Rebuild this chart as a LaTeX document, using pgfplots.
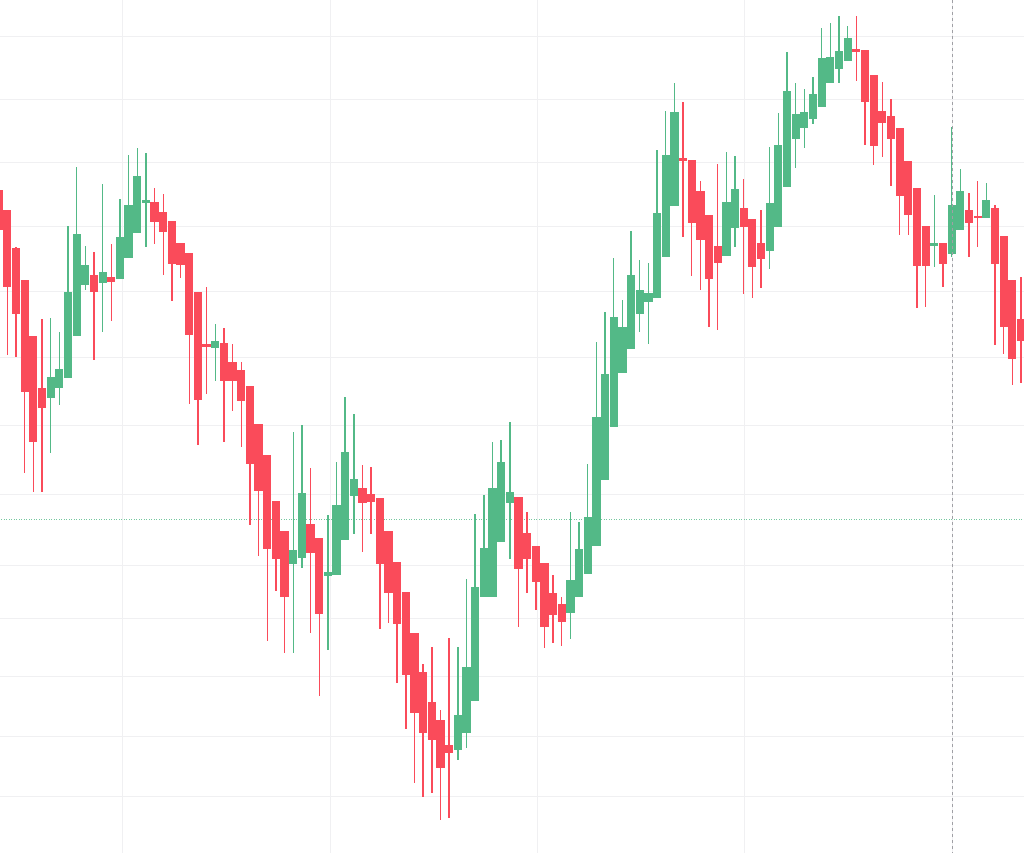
\documentclass[border=0pt]{standalone}
\usepackage{pgfplots}
\usepackage{pgfplotstable}
\pgfplotsset{compat=1.18}
\definecolor{cgreen}{RGB}{83,185,135}
\definecolor{cred}{RGB}{250,75,90}
\definecolor{gridc}{RGB}{240,240,242}
\definecolor{crossc}{RGB}{160,160,165}

\pgfplotstableread{
i top bot hi lo
6 377 398 318 453
7 369 388 332 405
8 292 378 226 378
9 234 336 167 336
10 265 285 246 290
12 272 283 184 332
14 237 279 199 279
15 205 258 155 258
16 176 233 148 233
17 200 203 153 247
25 341 348 324 381
34 550 564 432 653
35 493 558 425 568
38 572 576 515 650
39 505 575 462 575
40 452 540 397 540
41 479 496 414 534
53 715 750 647 760
54 667 733 579 748
55 587 701 514 701
56 548 597 495 597
57 488 597 442 597
58 462 542 440 542
59 492 503 422 559
66 580 613 512 639
67 549 597 522 597
68 517 574 464 574
69 417 546 342 546
70 374 480 312 480
71 317 427 258 427
72 327 373 300 373
73 275 349 231 349
74 290 314 260 332
75 293 302 263 344
76 213 298 150 298
77 155 257 111 257
78 112 206 83 206
84 202 256 152 256
85 189 228 156 247
89 203 251 147 269
90 145 227 113 227
91 91 187 52 187
92 114 139 83 168
93 112 128 89 148
94 94 119 77 124
95 58 107 28 107
96 57 83 23 83
97 51 69 16 83
98 38 61 26 61
108 243 246 195 267
110 205 254 127 257
111 191 230 169 230
114 200 218 183 218
}\greendata

\pgfplotstableread{
i top bot hi lo
0 190 230 186 235
1 210 287 210 355
2 248 314 247 357
3 280 392 280 473
4 336 442 336 492
5 388 408 319 492
11 275 292 252 360
13 277 282 244 321
18 202 222 188 244
19 212 232 194 275
20 221 264 221 301
21 243 265 243 278
22 253 335 253 404
23 292 400 292 445
24 344 347 287 394
26 343 381 328 442
27 362 381 344 411
28 370 401 362 447
29 386 464 386 525
30 424 491 424 556
31 455 549 455 641
32 501 559 501 591
33 531 597 531 653
36 524 553 468 633
37 538 614 538 696
42 488 503 465 552
43 494 502 467 534
44 498 564 498 629
45 531 593 531 623
46 562 624 562 683
47 592 675 592 729
48 633 713 633 783
49 672 733 664 797
50 702 740 647 793
51 720 768 710 820
52 745 753 638 818
60 497 569 497 627
61 533 559 512 593
62 546 582 546 610
63 563 627 563 648
64 593 615 575 643
65 604 622 597 646
79 158 161 102 237
80 160 223 160 276
81 191 240 181 290
82 215 279 215 327
83 246 263 164 330
86 208 227 179 294
87 219 267 219 298
88 243 259 210 288
99 49 52 16 81
100 50 102 50 145
101 75 146 75 165
102 111 123 82 157
103 116 139 99 186
104 128 196 128 235
105 161 215 161 235
106 188 266 188 308
107 226 266 226 307
109 243 264 243 287
112 210 223 193 257
113 216 218 181 247
115 208 264 205 345
116 236 327 236 354
117 280 359 280 385
118 319 341 277 383
}\reddata

\begin{document}
\begin{tikzpicture}
\begin{axis}[
  scale only axis,
  width=1024pt, height=853pt,
  xmin=0.157, xmax=118.35,
  ymin=0, ymax=853, y dir=reverse,
  axis line style={draw=none},
  tick style={draw=none},
  xtick={14.24,38.25,62.14,86.14,110.04},
  ytick={37,100,162.5,226,291,357.5,425.5,494,565,618,676,736,796},
  xticklabels={}, yticklabels={},
  grid=major,
  major grid style={draw=gridc, line width=1pt},
  clip=true,
]
% price line
\addplot[cgreen!80, line width=1pt, dash pattern=on 1pt off 1.5pt] coordinates {(-2,519) (120,519)};
% wicks
\addplot[draw=none, mark=none, error bars/.cd, y dir=both, y explicit, error mark=none,
  error bar style={draw=cgreen, line width=1.4pt}]
  table[x=i, y expr=(\thisrow{hi}+\thisrow{lo})/2, y error expr=(\thisrow{lo}-\thisrow{hi})/2] {\greendata};
\addplot[draw=none, mark=none, error bars/.cd, y dir=both, y explicit, error mark=none,
  error bar style={draw=cred, line width=1.4pt}]
  table[x=i, y expr=(\thisrow{hi}+\thisrow{lo})/2, y error expr=(\thisrow{lo}-\thisrow{hi})/2] {\reddata};
% bodies
\addplot[draw=none, mark=none, error bars/.cd, y dir=both, y explicit, error mark=none,
  error bar style={draw=cgreen, line width=8.2pt}]
  table[x=i, y expr=(\thisrow{top}+\thisrow{bot})/2, y error expr=(\thisrow{bot}-\thisrow{top})/2] {\greendata};
\addplot[draw=none, mark=none, error bars/.cd, y dir=both, y explicit, error mark=none,
  error bar style={draw=cred, line width=8.2pt}]
  table[x=i, y expr=(\thisrow{top}+\thisrow{bot})/2, y error expr=(\thisrow{bot}-\thisrow{top})/2] {\reddata};
% crosshair
\addplot[crossc, line width=1pt, dash pattern=on 3pt off 3pt] coordinates {(110.04,0) (110.04,853)};
\end{axis}
\pgfresetboundingbox
\path[use as bounding box] (current axis.south west) rectangle (current axis.north east);
\end{tikzpicture}
\end{document}
